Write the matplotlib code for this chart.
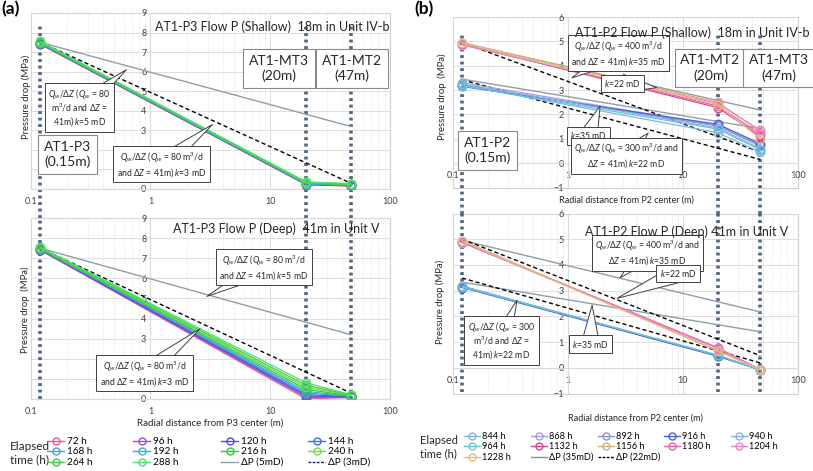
import numpy as np
import matplotlib
matplotlib.use('Agg')
import matplotlib.pyplot as plt
from matplotlib.lines import Line2D

plt.rcParams['font.family'] = ['Lato', 'DejaVu Sans']
plt.rcParams['mathtext.fontset'] = 'custom'
plt.rcParams['mathtext.rm'] = 'Lato'
plt.rcParams['mathtext.it'] = 'Lato:italic'
plt.rcParams['mathtext.bf'] = 'Lato:bold'

# radial distances of the wells (m)
x_wells = [0.12, 20, 47]
x_theory = [0.12, 47]

# ---- panel (a): AT1-P3 flow ----
hours_a = ['72 h', '96 h', '120 h', '144 h', '168 h', '192 h', '216 h', '240 h', '264 h', '288 h']
colors_a = ['#e8559a', '#9b4fc7', '#4f4fd0', '#3f6fd8', '#4a9fd8', '#3cb0c8',
            '#35c835', '#7bd84a', '#3ccf3c', '#4ae070']
shallow_a = [[7.40, 0.22, 0.15], [7.42, 0.23, 0.16], [7.43, 0.24, 0.17], [7.45, 0.25, 0.18],
             [7.46, 0.26, 0.19], [7.47, 0.28, 0.20], [7.48, 0.30, 0.22], [7.50, 0.32, 0.24],
             [7.52, 0.34, 0.26], [7.55, 0.36, 0.28]]
deep_a = [[7.40, 0.00, 0.08], [7.42, 0.08, 0.10], [7.43, 0.15, 0.10], [7.45, 0.22, 0.12],
          [7.46, 0.30, 0.13], [7.47, 0.38, 0.14], [7.48, 0.48, 0.16], [7.50, 0.58, 0.18],
          [7.52, 0.68, 0.20], [7.55, 0.80, 0.22]]
dp5_a = [7.5, 3.2]
dp3_a = [7.5, 0.3]

# ---- panel (b): AT1-P2 flow ----
hours_b = ['844 h', '868 h', '892 h', '916 h', '940 h', '964 h', '1132 h', '1156 h',
           '1180 h', '1204 h', '1228 h']
colors_b = ['#7fb8e0', '#a79be0', '#9090e0', '#4a5fd0', '#8fb0e0', '#5fc8d8',
            '#e0408f', '#d4b070', '#e860a8', '#f080c8', '#e0c080']
shallow_b = [[3.20, 1.25, 0.45], [3.30, 1.55, 0.75], [3.22, 1.52, 0.70], [3.15, 1.60, 0.80],
             [3.25, 1.45, 0.60], [3.18, 1.40, 0.55], [4.90, 2.28, 1.10], [4.95, 2.50, 1.30],
             [4.88, 2.35, 1.20], [4.85, 2.45, 1.35], [4.92, 2.40, 1.00]]
deep_b = [[3.15, 0.48, -0.08], [3.18, 0.47, -0.08], [3.16, 0.46, -0.08], [3.12, 0.45, -0.08],
          [3.17, 0.48, -0.08], [3.14, 0.50, -0.08], [4.88, 0.78, -0.08], [4.95, 0.68, -0.08],
          [4.88, 0.77, -0.08], [4.87, 0.76, -0.08], [4.93, 0.65, -0.08]]
dp35_shallow_b = [[4.93, 2.18], [3.45, 1.42]]
dp22_shallow_b = [[4.95, 0.45], [3.42, 0.15]]
dp35_deep_b = [[4.96, 2.17], [3.33, 1.40]]
dp22_deep_b = [[5.00, 0.47], [3.49, 0.19]]

W, H = 813, 471
fig = plt.figure(figsize=(W / 100, H / 100), dpi=100)


def fx(x):
    return x / W


def fy(y):
    return 1 - y / H


GRAY_LINE = '#8c9fae'
DOT = '#52657c'
TXT = '#262626'


def setup(ax, ylo, yhi):
    ax.set_xscale('log')
    ax.set_xlim(0.1, 100)
    ax.set_ylim(ylo, yhi)
    ax.set_xticks([0.1, 1, 10, 100], ['0.1', '1', '10', '100'])
    ax.set_yticks(range(ylo, yhi + 1))
    ax.xaxis.set_minor_formatter(plt.NullFormatter())
    ax.grid(True, which='major', color='#d9d9d9', lw=0.6, zorder=0)
    ax.grid(True, which='minor', axis='x', color='#e2e2e2', lw=0.5, ls=(0, (3, 2)))
    for s in ['top', 'right']:
        ax.spines[s].set_visible(False)
    ax.spines['left'].set_position(('data', 1))
    ax.spines['bottom'].set_position(('data', 0))
    ax.spines['left'].set_color('#d9d9d9')
    ax.spines['bottom'].set_color('#d9d9d9')
    ax.tick_params(which='both', length=0, labelsize=6.5, labelcolor='#404040')
    ax.tick_params(axis='x', pad=6)
    ax.tick_params(axis='y', pad=3)
    ax.patch.set_edgecolor('#cfcfcf')
    ax.patch.set_linewidth(0.8)
    ax.set_axisbelow(True)


def wells(ax, ymin, ymax):
    for x in x_wells:
        ax.axvline(x, ymin=ymin, ymax=ymax, color=DOT, lw=2.6, ls=(0, (0.8, 1.0)),
                   clip_on=False, zorder=2)


def series(ax, data, colors):
    for vals, c in zip(data, colors):
        ax.plot(x_wells, vals, color=c, lw=0.9, marker='o', ms=6, mfc='none',
                mec=c, mew=1.0, zorder=3)


def box(x, y, txt, size=10):
    fig.text(fx(x), fy(y), txt, ha='center', va='center', fontsize=size,
             color=TXT, linespacing=1.3, zorder=6,
             bbox=dict(boxstyle='square,pad=0.4', fc='white', ec='#8a8a8a', lw=0.8))


def callout(ax, x, y, txt, pt):
    ax.annotate(txt, xy=pt, xycoords='data', xytext=(fx(x), fy(y)),
                textcoords='figure fraction', ha='center', va='center',
                fontsize=6.2, color=TXT, linespacing=1.1, zorder=6,
                annotation_clip=False,
                bbox=dict(boxstyle='square,pad=0.4', fc='white', ec='#404040', lw=0.7),
                arrowprops=dict(arrowstyle='wedge,tail_width=1.1,shrink_factor=0.5',
                                fc='white', ec='#404040', lw=0.7, shrinkA=0, shrinkB=0,
                                patchA=None, mutation_scale=12))


def ylab(x, y, txt):
    fig.text(fx(x), fy(y), txt, rotation=90, ha='center', va='center', fontsize=6.8,
             color=TXT)


def title(x, y, txt):
    fig.text(fx(x), fy(y), txt, fontsize=9, va='center', color=TXT)


# ---------------- (a) top ----------------
ax1 = fig.add_axes([fx(30.7), fy(189), fx(390 - 30.7), (189 - 13) / H])
setup(ax1, 0, 9)
wells(ax1, -0.165, 0.93)
ax1.plot(x_theory, dp5_a, color=GRAY_LINE, lw=1.0, zorder=3)
ax1.plot(x_theory, dp3_a, color='black', lw=1.0, ls=(0, (3, 2)), zorder=3)
series(ax1, shallow_a, colors_a)
title(155, 27, 'AT1-P3 Flow P (Shallow)  18m in Unit IV-b')
box(67.5, 154.5, 'AT1-P3\n(0.15m)')
box(279, 68.5, 'AT1-MT3\n(20m)')
box(352, 68.5, 'AT1-MT2\n(47m)')
callout(ax1, 79.5, 107.5, r'$Q_w/\Delta Z$ ($Q_w$ = 80' + '\n' + r'm$^3$/d and $\Delta Z$ =' + '\n'
        + r'41m) $k$=5 mD', (0.63, 6.1))
callout(ax1, 161.5, 164.5, r'$Q_w/\Delta Z$ ($Q_w$ = 80 m$^3$/d' + '\n' + r'and $\Delta Z$ = 41m) $k$=3 mD',
        (3.3, 3.3))
ylab(26, 97, 'Pressure drop (MPa)')

# ---------------- (a) bottom ----------------
ax2 = fig.add_axes([fx(30.7), fy(399), fx(390 - 30.7), (399 - 218) / H])
setup(ax2, 0, 9)
wells(ax2, 0, 1.0)
ax2.plot(x_theory, dp5_a, color=GRAY_LINE, lw=1.0, zorder=3)
ax2.plot(x_theory, dp3_a, color='black', lw=1.0, ls=(0, (3, 2)), zorder=3)
series(ax2, deep_a, colors_a)
title(173, 229, 'AT1-P3 Flow P (Deep)  41m in Unit V')
callout(ax2, 264, 267.5, r'$Q_w/\Delta Z$ ($Q_w$ = 80 m$^3$/d' + '\n' + r'and $\Delta Z$ = 41m) $k$=5 mD',
        (2.95, 5.1))
callout(ax2, 144.5, 373.5, r'$Q_w/\Delta Z$ ($Q_w$ = 80 m$^3$/d' + '\n' + r'and $\Delta Z$ = 41m) $k$=3 mD',
        (2.6, 3.5))
ylab(25, 310, 'Pressure drop  (MPa)')
fig.text(fx(210), fy(423), 'Radial distance from P3 center (m)', ha='center', va='center',
         fontsize=7, color=TXT)

# ---------------- (b) top ----------------
ax3 = fig.add_axes([fx(453), fy(187.5), fx(345), 170.5 / H])
setup(ax3, -1, 6)
wells(ax3, -0.153, 0.91)
for v in dp35_shallow_b:
    ax3.plot(x_theory, v, color=GRAY_LINE, lw=1.0, zorder=3)
for v in dp22_shallow_b:
    ax3.plot(x_theory, v, color='black', lw=1.0, ls=(0, (3, 2)), zorder=3)
series(ax3, shallow_b, colors_b)
title(575, 33, 'AT1-P2 Flow P (Shallow)  18m in Unit IV-b')
box(487.5, 150.5, 'AT1-P2\n(0.15m)')
box(710.5, 68, 'AT1-MT2\n(20m)')
box(778.5, 68, 'AT1-MT3\n(47m)')
callout(ax3, 618.5, 53.5, r'$Q_w/\Delta Z$ ($Q_w$ = 400 m$^3$/d' + '\n' + r'and $\Delta Z$ = 41m) $k$=35 mD',
        (1.08, 3.5))
callout(ax3, 622.5, 83.5, r'$k$=22 mD', (5.9, 3.1))
callout(ax3, 588.5, 136, r'$k$=35 mD', (1.9, 2.34))
callout(ax3, 626.5, 156, r'$Q_w/\Delta Z$ ($Q_w$ = 300 m$^3$/d and' + '\n' + r'$\Delta Z$ = 41m) $k$=22 mD',
        (4.97, 1.23))
ylab(442, 97, 'Pressure drop  (MPa)')
fig.text(fx(626), fy(200), 'Radial distance from P2 center (m)', ha='center', va='center',
         fontsize=6.5, color=TXT)

# ---------------- (b) bottom ----------------
ax4 = fig.add_axes([fx(453), fy(393.5), fx(345), 180 / H])
setup(ax4, -1, 6)
wells(ax4, 0.01, 1.0)
for v in dp35_deep_b:
    ax4.plot(x_theory, v, color=GRAY_LINE, lw=1.0, zorder=3)
for v in dp22_deep_b:
    ax4.plot(x_theory, v, color='black', lw=1.0, ls=(0, (3, 2)), zorder=3)
series(ax4, deep_b, colors_b)
title(585, 232, 'AT1-P2 Flow P (Deep) 41m in Unit V')
callout(ax4, 647.5, 253, r'$Q_w/\Delta Z$ ($Q_w$ = 400 m$^3$/d and' + '\n' + r'$\Delta Z$ = 41m) $k$=35 mD',
        (2.83, 3.5))
callout(ax4, 678, 273.5, r'$k$=22 mD', (2.67, 2.7))
callout(ax4, 501.5, 340.5, r'$Q_w/\Delta Z$ ($Q_w$ = 300' + '\n' + r'm$^3$/d and $\Delta Z$ =' + '\n'
        + r'41m) $k$=22 mD', (0.36, 2.63))
callout(ax4, 590.5, 344, r'$k$=35 mD', (1.62, 2.44))
ylab(440, 302, 'Pressure drop (MPa)')
fig.text(fx(635), fy(418), 'Radial distance from P2 center (m)', ha='center', va='center',
         fontsize=6.5, color=TXT)

# panel letters
fig.text(fx(1), fy(9), '(a)', fontsize=12.5, fontweight='bold', va='center')
fig.text(fx(414), fy(9), '(b)', fontsize=12.5, fontweight='bold', va='center')


# ---------------- legends ----------------
def handle(c, ls='-', marker='o'):
    return Line2D([], [], color=c, lw=1.0, ls=ls, marker=marker, ms=5, mfc='none', mec=c)


def legend_cols(items, ncol, xs, ytop, size):
    for ci in range(ncol):
        col = items[ci::ncol]
        fig.legend([h for h, _ in col], [lab for _, lab in col], loc='upper left',
                   bbox_to_anchor=(fx(xs[ci]), fy(ytop)), frameon=False, fontsize=size,
                   borderpad=0, borderaxespad=0, handlelength=1.7, handletextpad=0.3,
                   labelspacing=0.15, numpoints=1)


items_a = [(handle(c), h) for c, h in zip(colors_a, hours_a)]
items_a += [(handle(GRAY_LINE, marker=''), 'ΔP (5mD)'),
            (handle('#1f1f5f', ls=(0, (2, 1)), marker=''), 'ΔP (3mD)')]
legend_cols(items_a, 4, [47, 133, 221, 308], 437, 7.2)
fig.text(fx(10), fy(453), 'Elapsed\ntime (h)', fontsize=8.5, va='center', ha='left',
         linespacing=1.3, color=TXT)

items_b = [(handle(c), h) for c, h in zip(colors_b, hours_b)]
items_b += [(handle('#909090', marker=''), 'ΔP (35mD)'),
            (handle('black', ls=(0, (2, 1)), marker=''), 'ΔP (22mD)')]
legend_cols(items_b, 5, [464, 531, 598, 664, 731], 432, 6.6)
fig.text(fx(420), fy(447), 'Elapsed\ntime (h)', fontsize=8, va='center', ha='left',
         linespacing=1.3, color=TXT)

fig.savefig('out.png', dpi=100)
